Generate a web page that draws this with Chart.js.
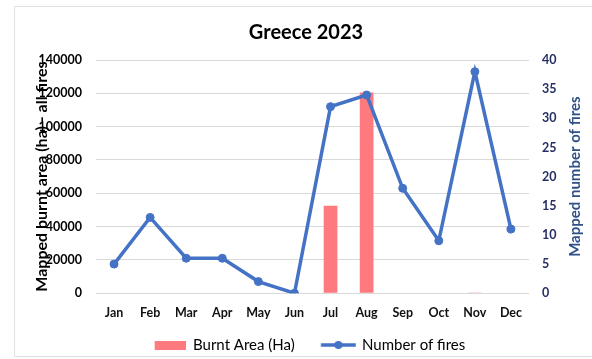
<!DOCTYPE html>
<html>
<head>
<meta charset="utf-8">
<script src="https://cdn.jsdelivr.net/npm/chart.js@4.4.0/dist/chart.umd.min.js"></script>
<style>
  html, body { margin: 0; padding: 0; background: #fff; }
  #frame { position: absolute; left: 14px; top: 6px; width: 600px; height: 351px; border: 1px solid #e2e2e2; box-sizing: border-box; }
  #wrap { position: absolute; left: 0; top: 0; width: 592px; height: 359px; }
</style>
</head>
<body>
<div id="frame"></div>
<div id="wrap"><canvas id="c" width="592" height="359"></canvas></div>
<script>
const months = ['Jan','Feb','Mar','Apr','May','Jun','Jul','Aug','Sep','Oct','Nov','Dec'];
const burntArea = [0, 0, 0, 0, 0, 0, 52500, 120500, 0, 0, 400, 0];
const numberOfFires = [5, 13, 6, 6, 2, 0, 32, 34, 18, 9, 38, 11];
const leftTicks = [0, 20000, 40000, 60000, 80000, 100000, 120000, 140000];
const rightTicks = [0, 5, 10, 15, 20, 25, 30, 35, 40];
const seriesNames = ['Burnt Area (Ha)', 'Number of fires'];

const barColor = '#FF7A7E';
const lineColor = '#4472C4';

// ---- legend geometry (text starts at 193 and 362, swatches before them) ----
const LEG_FS = 15;
const mctx = document.createElement('canvas').getContext('2d');
mctx.font = LEG_FS + 'px Lato';
const t1 = mctx.measureText(seriesNames[0]).width;
const t2 = mctx.measureText(seriesNames[1]).width;
const T1 = 193, T2 = 362;
const BOXW = Math.max(32, t2 - 57 - LEG_FS / 2);
const PAD = Math.max(4, T2 - T1 - BOXW - LEG_FS / 2 - t1);
const legTop = 345 - PAD - LEG_FS / 2;
const legH = 357 - legTop;
const xAxisH = legTop - 293.25;

function makeRectImg() {
  const c = document.createElement('canvas');
  c.width = Math.ceil(BOXW); c.height = 9;
  const g = c.getContext('2d');
  g.fillStyle = barColor; g.fillRect(c.width - 31, 0, 31, 9);
  return c;
}
function makeLineImg() {
  const lineEnd = BOXW + LEG_FS / 2 - 6;
  const lineStart = lineEnd - 35;
  const half = Math.max(lineEnd - BOXW / 2, BOXW / 2 - lineStart);
  const c = document.createElement('canvas');
  c.width = Math.ceil(half * 2); c.height = 10;
  const off = half - BOXW / 2; // image x of item-relative 0
  const g = c.getContext('2d');
  g.strokeStyle = lineColor; g.lineWidth = 3.5;
  g.beginPath(); g.moveTo(off + lineStart, 5); g.lineTo(off + lineEnd, 5); g.stroke();
  g.fillStyle = lineColor;
  g.beginPath(); g.arc(off + (lineStart + lineEnd) / 2, 5, 4, 0, Math.PI * 2); g.fill();
  return c;
}
const rectImg = makeRectImg();
const lineImg = makeLineImg();

const rightTitlePlugin = {
  id: 'rightTitle',
  afterDraw(chart) {
    const ctx = chart.ctx;
    const ca = chart.chartArea;
    ctx.save();
    ctx.translate(575, (ca.top + ca.bottom) / 2);
    ctx.rotate(-Math.PI / 2);
    ctx.font = 'bold 15px Lato';
    ctx.fillStyle = '#2F5188';
    ctx.textAlign = 'center';
    ctx.textBaseline = 'middle';
    ctx.fillText('Mapped number of fires', 0, 0);
    ctx.restore();
  }
};

// let the month labels overflow their (short) axis box
const noLabelClip = {
  id: 'noLabelClip',
  beforeDraw(chart) { chart.scales.x._computeLabelArea = () => undefined; }
};

Chart.defaults.font.family = 'Lato';

new Chart(document.getElementById('c'), {
  data: {
    labels: months,
    datasets: [
      {
        type: 'bar',
        label: seriesNames[0],
        data: burntArea,
        backgroundColor: barColor,
        yAxisID: 'y',
        order: 1,
        categoryPercentage: 1,
        barPercentage: 0.38
      },
      {
        type: 'line',
        label: seriesNames[1],
        data: numberOfFires,
        borderColor: lineColor,
        backgroundColor: lineColor,
        borderWidth: 3.5,
        pointRadius: 4,
        pointBackgroundColor: lineColor,
        pointBorderColor: lineColor,
        pointBorderWidth: 1,
        tension: 0,
        yAxisID: 'y1',
        order: 0
      }
    ]
  },
  options: {
    responsive: false,
    animation: false,
    devicePixelRatio: 1,
    layout: { padding: { left: 20, right: 0, top: 0, bottom: 2 } },
    plugins: {
      title: {
        display: true,
        text: 'Greece 2023',
        color: '#000',
        font: { size: 20, weight: 'bold', lineHeight: 1.2 },
        padding: { top: 21, bottom: 15 }
      },
      legend: {
        position: 'bottom',
        maxHeight: legH,
        labels: {
          usePointStyle: true,
          pointStyleWidth: BOXW,
          boxHeight: 9,
          padding: PAD,
          color: '#404040',
          font: { size: LEG_FS },
          generateLabels() {
            return [
              { text: seriesNames[0], pointStyle: rectImg, fillStyle: barColor, strokeStyle: barColor, lineWidth: 0, datasetIndex: 0, hidden: false },
              { text: seriesNames[1], pointStyle: lineImg, fillStyle: lineColor, strokeStyle: lineColor, lineWidth: 0, datasetIndex: 1, hidden: false }
            ];
          }
        }
      },
      tooltip: { enabled: false }
    },
    scales: {
      x: {
        grid: { display: false, drawTicks: false },
        border: { display: false },
        ticks: { color: '#111', font: { size: 12.5, weight: 'bold' }, padding: 12.25 },
        afterFit(s) { s.height = xAxisH; }
      },
      y: {
        position: 'left',
        min: 0, max: 140000,
        afterBuildTicks(s) { s.ticks = leftTicks.map(v => ({ value: v })); },
        grid: { color: '#D9D9D9', lineWidth: 1, drawTicks: false },
        border: { display: false },
        ticks: { color: '#000', font: { size: 12.5, weight: 'bold' }, padding: 14, callback: v => String(v) },
        title: {
          display: true,
          text: 'Mapped burnt area (ha) - all fires',
          color: '#000',
          font: { size: 16, weight: 'bold', lineHeight: 1.2 },
          padding: { top: 12.4, bottom: 0 }
        },
        afterFit(s) { s.width = 76; }
      },
      y1: {
        position: 'right',
        min: 0, max: 40,
        afterBuildTicks(s) { s.ticks = rightTicks.map(v => ({ value: v })); },
        grid: { display: false, drawTicks: false },
        border: { display: false },
        ticks: { color: '#262F63', font: { size: 12.5, weight: 'bold' }, padding: 13 },
        afterFit(s) { s.width = 63; }
      }
    }
  },
  plugins: [rightTitlePlugin, noLabelClip]
});
</script>
</body>
</html>
